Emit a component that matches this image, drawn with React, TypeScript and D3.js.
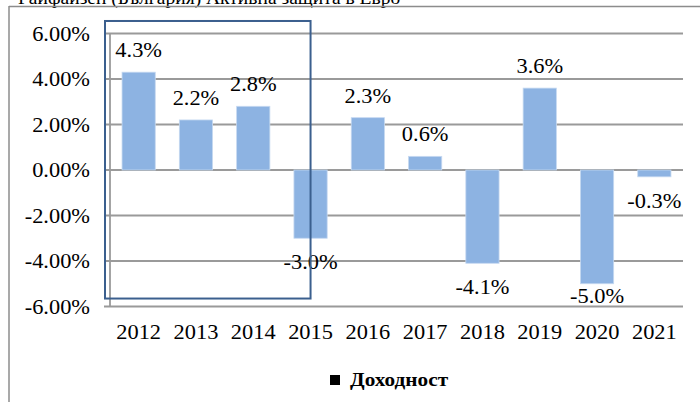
import React from "react";
import * as d3 from "d3";

const years = ["2012", "2013", "2014", "2015", "2016", "2017", "2018", "2019", "2020", "2021"];
const returns = [0.043, 0.022, 0.028, -0.03, 0.023, 0.006, -0.041, 0.036, -0.05, -0.003];
const yTicks = [-0.06, -0.04, -0.02, 0, 0.02, 0.04, 0.06];
const seriesName = "Доходност";
const titleText = "Райфайзен (България) Активна защита в Евро";

const W = 700;
const H = 402;
const FONT = '"Liberation Serif", "Times New Roman", "DejaVu Serif", serif';
const SX = 1.12;

function T({ x, y, anchor = "start", size = 20, weight = "normal", children, fill = "#000", sx = SX }: any) {
  return (
    <text
      transform={`translate(${x},${y}) scale(${sx},1)`}
      textAnchor={anchor}
      style={{ fontFamily: FONT, fontSize: `${size}px`, fontWeight: weight }}
      fill={fill}
    >
      {children}
    </text>
  );
}

const hy = (s: string) => s.replace("\u2212", "-");

export default function App() {
  const x = d3.scaleBand<string>().domain(years).range([110, 683]).paddingInner(0.42).paddingOuter(0.21);
  const y = d3.scaleLinear().domain([-0.06, 0.06]).range([306.5, 33.5]);
  const fmtTick = d3.format(".2%");
  const fmtLab = d3.format(".1%");
  const bw = x.bandwidth();

  const rectX0 = x.range()[0] - 5;
  const rectX1 = (x("2015") as number) + bw / 2;
  const rectY0 = y(0.0655);
  const rectY1 = y(-0.0565);

  return (
    <div style={{ position: "absolute", left: 0, top: 0 }}>
      <svg width={W} height={H} style={{ display: "block", background: "#fff" }}>
        {/* title (cut off at top, as in the reference) */}
        <T x={18} y={4} size={19.5} sx={1}>{titleText}</T>
        {/* outer frame */}
        <line x1={9} x2={W} y1={6.5} y2={6.5} stroke="#8c8c8c" strokeWidth={1.5} />
        <line x1={9} x2={9} y1={6} y2={H} stroke="#8c8c8c" strokeWidth={1.5} />

        {/* gridlines */}
        {yTicks.map((t) => (
          <line key={t} x1={104} x2={683} y1={y(t)} y2={y(t)} stroke="#9a9a9a" strokeWidth={1.8} />
        ))}
        <line x1={110} x2={110} y1={y(0.06)} y2={y(-0.06)} stroke="#9a9a9a" strokeWidth={1.8} />

        {/* y tick labels */}
        {yTicks.map((t) => (
          <T key={t} x={90} y={y(t) + 7} anchor="end">{hy(fmtTick(t))}</T>
        ))}

        {/* bars */}
        {years.map((yr, i) => {
          const v = returns[i];
          const y0 = y(Math.max(0, v));
          const y1 = y(Math.min(0, v));
          return (
            <rect
              key={yr}
              x={x(yr)}
              y={y0}
              width={bw}
              height={y1 - y0}
              fill="#8db3e2"
              stroke="#c6d9f1"
              strokeWidth={0.8}
            />
          );
        })}

        {/* data labels */}
        {years.map((yr, i) => {
          const v = returns[i];
          const cx = (x(yr) as number) + bw / 2;
          const ly = v >= 0 ? y(v) - 15 : Math.min(y(v) + 31, 303);
          return (
            <T key={yr} x={cx} y={ly} anchor="middle">{hy(fmtLab(v))}</T>
          );
        })}

        {/* x labels */}
        {years.map((yr) => (
          <T key={yr} x={(x(yr) as number) + bw / 2} y={339} anchor="middle">{yr}</T>
        ))}

        {/* highlight rectangle */}
        <rect x={rectX0} y={rectY0} width={rectX1 - rectX0} height={rectY1 - rectY0} fill="none" stroke="#3b5f8e" strokeWidth={2} />

        {/* legend */}
        <rect x={330} y={375} width={10} height={10} fill="#000" />
        <T x={350} y={386} weight="bold" size={19}>{seriesName}</T>
      </svg>
    </div>
  );
}
